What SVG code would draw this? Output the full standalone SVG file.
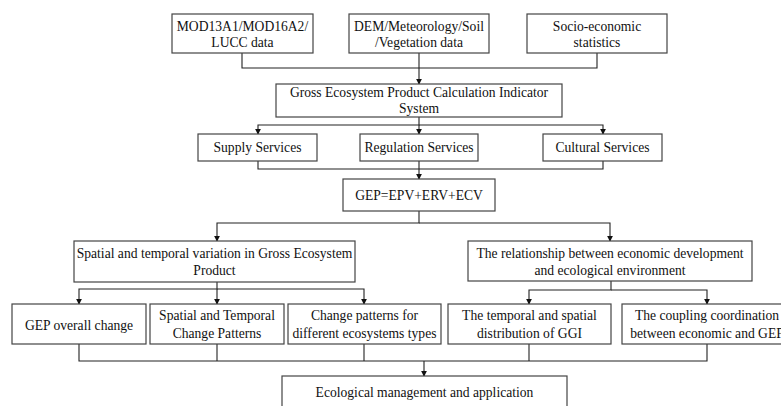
<svg xmlns="http://www.w3.org/2000/svg" width="781" height="406" viewBox="0 0 781 406">
<defs>
<style>
.box{fill:#fff;stroke:#444;stroke-width:1.2}
.t{font-family:"Liberation Serif","Times New Roman","DejaVu Serif",serif;font-size:13.6px;fill:#111;text-anchor:middle}
.c{fill:none;stroke:#222;stroke-width:1.1}
</style>
<marker id="arr" viewBox="0 0 8 8" refX="7" refY="4" markerWidth="6" markerHeight="6" markerUnits="userSpaceOnUse" orient="auto">
<path d="M0,0 L8,4 L0,8 Z" fill="#111"/>
</marker>
</defs>
<rect width="781" height="406" fill="#fff"/>
<g id="connectors">
<path class="c" d="M242,53 V68 H597 V53"/>
<path class="c" d="M419,53 V84" marker-end="url(#arr)"/>
<path class="c" d="M419,117 V125 H258 V134" marker-end="url(#arr)"/>
<path class="c" d="M419,125 V134" marker-end="url(#arr)"/>
<path class="c" d="M419,125 H603 V134" marker-end="url(#arr)"/>
<path class="c" d="M258,161 V169 H603 V161"/>
<path class="c" d="M419,161 V179" marker-end="url(#arr)"/>
<path class="c" d="M419,211 V223 H217 V241" marker-end="url(#arr)"/>
<path class="c" d="M419,223 H610 V241" marker-end="url(#arr)"/>
<path class="c" d="M217,282 V289 H79 V304" marker-end="url(#arr)"/>
<path class="c" d="M217,289 V304" marker-end="url(#arr)"/>
<path class="c" d="M217,289 H364 V304" marker-end="url(#arr)"/>
<path class="c" d="M611,281 V290 H529 V304" marker-end="url(#arr)"/>
<path class="c" d="M611,290 H707 V304" marker-end="url(#arr)"/>
<path class="c" d="M79,344 V361 H707 V344"/>
<path class="c" d="M217,344 V361"/>
<path class="c" d="M364,344 V361"/>
<path class="c" d="M529,344 V361"/>
<path class="c" d="M424,361 V376" marker-end="url(#arr)"/>
</g>
<g id="n-mod">
<rect class="box" x="172" y="14" width="141" height="39"/>
<text class="t" x="242.5" y="30.5">MOD13A1/MOD16A2/</text>
<text class="t" x="242.5" y="46.5">LUCC data</text>
</g>
<g id="n-dem">
<rect class="box" x="349" y="14" width="140" height="39"/>
<text class="t" x="419" y="30.5">DEM/Meteorology/Soil</text>
<text class="t" x="419" y="46.5">/Vegetation data</text>
</g>
<g id="n-socio">
<rect class="box" x="527" y="14" width="140" height="39"/>
<text class="t" x="597" y="30.5">Socio-economic</text>
<text class="t" x="597" y="46.5">statistics</text>
</g>
<g id="n-gross">
<rect class="box" x="276" y="84" width="286" height="33"/>
<text class="t" x="419" y="96.5">Gross Ecosystem Product Calculation Indicator</text>
<text class="t" x="419" y="112.5">System</text>
</g>
<g id="n-supply">
<rect class="box" x="198" y="134" width="119" height="27"/>
<text class="t" x="257.5" y="152">Supply Services</text>
</g>
<g id="n-regulation">
<rect class="box" x="360" y="134" width="118" height="27"/>
<text class="t" x="419" y="152">Regulation Services</text>
</g>
<g id="n-cultural">
<rect class="box" x="543" y="134" width="119" height="27"/>
<text class="t" x="602.5" y="152">Cultural Services</text>
</g>
<g id="n-gep">
<rect class="box" x="343" y="179" width="152" height="32"/>
<text class="t" x="419" y="199.5">GEP=EPV+ERV+ECV</text>
</g>
<g id="n-spatial">
<rect class="box" x="74" y="241" width="281" height="41"/>
<text class="t" x="214.5" y="257.5">Spatial and temporal variation in Gross Ecosystem</text>
<text class="t" x="214.5" y="274.5">Product</text>
</g>
<g id="n-relation">
<rect class="box" x="468" y="241" width="284" height="40"/>
<text class="t" x="610" y="258">The relationship between economic development</text>
<text class="t" x="610" y="274.5">and ecological environment</text>
</g>
<g id="n-overall">
<rect class="box" x="12" y="304" width="134" height="40"/>
<text class="t" x="79" y="329.5">GEP overall change</text>
</g>
<g id="n-patterns">
<rect class="box" x="150" y="304" width="134" height="40"/>
<text class="t" x="217" y="319.5">Spatial and Temporal</text>
<text class="t" x="217" y="337.5">Change Patterns</text>
</g>
<g id="n-types">
<rect class="box" x="288" y="304" width="153" height="40"/>
<text class="t" x="364.5" y="319.5">Change patterns for</text>
<text class="t" x="364.5" y="337.5">different ecosystems types</text>
</g>
<g id="n-ggi">
<rect class="box" x="448" y="304" width="163" height="40"/>
<text class="t" x="529.5" y="319.5">The temporal and spatial</text>
<text class="t" x="529.5" y="337.5">distribution of GGI</text>
</g>
<g id="n-coupling">
<rect class="box" x="622" y="304" width="170" height="40"/>
<text class="t" x="707" y="319.5">The coupling coordination</text>
<text class="t" x="707" y="337.5">between economic and GEP</text>
</g>
<g id="n-eco">
<rect class="box" x="282" y="376" width="285" height="40"/>
<text class="t" x="424.5" y="396.5">Ecological management and application</text>
</g>
</svg>
